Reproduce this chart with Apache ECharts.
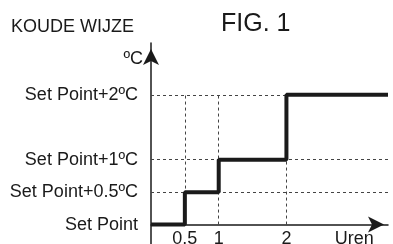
<!DOCTYPE html>
<html>
<head>
<meta charset="utf-8">
<script src="https://cdn.jsdelivr.net/npm/echarts@6/dist/echarts.min.js"></script>
<style>
  html, body { margin: 0; padding: 0; background: #fff; }
  #chart { width: 393px; height: 244px; }
</style>
</head>
<body>
<div id="chart"></div>
<script>
// step curve: hours -> offset above set point
const stepHours = [0, 0.5, 1, 2, 3.5];
const stepRise = [0, 0.5, 1, 2, 2];
const yTicks = [0, 0.5, 1, 2];
const yTickLabels = ['Set Point', 'Set Point+0.5ºC', 'Set Point+1ºC', 'Set Point+2ºC'];
const xTicks = [0.5, 1, 2, 3];
const xTickLabels = ['0.5', '1', '2', 'Uren'];
const guideX = [0.5, 1, 2];
const guideY = [0.5, 1, 2];

const font = "'Liberation Sans', Arial, sans-serif";
const ink = '#1a1a1a';

const guides = [];
guideY.forEach(function (v) {
  guides.push([{coord: [0, v]}, {coord: [3.5, v]}]);
});
guideX.forEach(function (v) {
  guides.push([{coord: [v, 0]}, {coord: [v, 2]}]);
});

const chart = echarts.init(document.getElementById('chart'));
chart.setOption({
  animation: false,
  textStyle: {fontFamily: font},
  title: [
    {text: 'KOUDE WIJZE', left: 6, top: 13, textStyle: {fontSize: 18, fontWeight: 'normal', color: ink, fontFamily: font}},
    {text: 'FIG. 1', left: 216, top: 7, textStyle: {fontSize: 25, fontWeight: 'normal', color: ink, fontFamily: font}}
  ],
  grid: {left: 151, right: 5, top: 43, bottom: 0, outerBoundsMode: 'none', containLabel: false},
  xAxis: {
    type: 'value',
    min: 0,
    max: 3.5,
    axisLine: {
      show: true,
      onZero: true,
      symbol: ['none', 'arrow'],
      symbolSize: [12, 16],
      symbolOffset: [0, -4],
      lineStyle: {color: ink, width: 1.5}
    },
    axisTick: {show: false},
    splitLine: {show: false},
    axisLabel: {
      customValues: xTicks,
      formatter: function (v) { return xTickLabels[xTicks.indexOf(v)]; },
      fontSize: 18,
      color: ink,
      margin: -14,
      fontFamily: font
    }
  },
  yAxis: {
    type: 'value',
    min: -0.3,
    max: 2.8,
    name: 'ºC',
    nameLocation: 'end',
    nameGap: -25,
    nameTextStyle: {fontSize: 18, color: ink, align: 'right', padding: [0, 8, 0, 0], fontFamily: font},
    axisLine: {
      show: true,
      symbol: ['none', 'arrow'],
      symbolSize: [12, 16],
      symbolOffset: [0, -6],
      lineStyle: {color: ink, width: 1.5}
    },
    axisTick: {show: false},
    splitLine: {show: false},
    axisLabel: {
      customValues: yTicks,
      formatter: function (v) { return yTickLabels[yTicks.indexOf(v)]; },
      fontSize: 18,
      color: ink,
      margin: 13,
      fontFamily: font
    }
  },
  series: [{
    type: 'line',
    step: 'end',
    data: stepHours.map(function (h, i) { return [h, stepRise[i]]; }),
    symbol: 'none',
    lineStyle: {color: ink, width: 4},
    z: 5,
    markLine: {
      silent: true,
      symbol: 'none',
      label: {show: false},
      lineStyle: {color: '#444', width: 1, type: [3, 3]},
      data: guides,
      z: 1
    }
  }]
});
</script>
</body>
</html>
